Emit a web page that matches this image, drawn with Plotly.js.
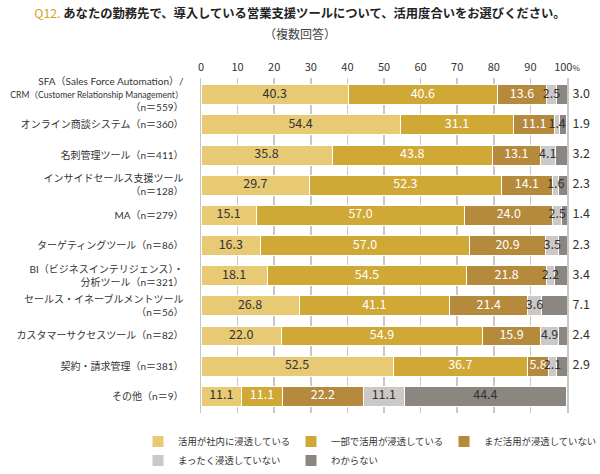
<!DOCTYPE html>
<html>
<head>
<meta charset="utf-8">
<script src="https://cdn.plot.ly/plotly-3.0.1.min.js"></script>
<style>
html,body{margin:0;padding:0;background:#fff;}
#chart{width:600px;height:474px;}
</style>
</head>
<body>
<div id="chart"></div>
<script>
const categories = [
  "SFA（Sales Force Automation）/<br><span style='font-size:8.6px'>CRM（Customer Relationship Management）</span><br>（n＝559）",
  "オンライン商談システム（n＝360）",
  "名刺管理ツール（n＝411）",
  "インサイドセールス支援ツール<br>（n＝128）",
  "MA（n＝279）",
  "ターゲティングツール（n＝86）",
  "BI（ビジネスインテリジェンス）・<br>分析ツール（n＝321）",
  "セールス・イネーブルメントツール<br>（n＝56）",
  "カスタマーサクセスツール（n＝82）",
  "契約・請求管理（n＝381）",
  "その他（n＝9）"
];
const seriesNames = ["活用が社内に浸透している", "一部で活用が浸透している", "まだ活用が浸透していない", "まったく浸透していない", "わからない"];
const fullyAdopted   = [40.3, 54.4, 35.8, 29.7, 15.1, 16.3, 18.1, 26.8, 22.0, 52.5, 11.1];
const partlyAdopted  = [40.6, 31.1, 43.8, 52.3, 57.0, 57.0, 54.5, 41.1, 54.9, 36.7, 11.1];
const notYetAdopted  = [13.6, 11.1, 13.1, 14.1, 24.0, 20.9, 21.8, 21.4, 15.9, 5.8, 22.2];
const notAtAll       = [2.5, 1.4, 4.1, 1.6, 2.5, 3.5, 2.2, 3.6, 4.9, 2.1, 11.1];
const unknown        = [3.0, 1.9, 3.2, 2.3, 1.4, 2.3, 3.4, 7.1, 2.4, 2.9, 44.4];
const tickValues = [0, 10, 20, 30, 40, 50, 60, 70, 80, 90, 100];
const tickLabels = ["0", "10", "20", "30", "40", "50", "60", "70", "80", "90", "100<span style='font-size:8px'>%</span>"];

const colors = ["#E8C974", "#D0A835", "#B58A3C", "#CCC8C5", "#8B8680"];
const textColors = ["#333333", "#ffffff", "#ffffff", "#333333", "#333333"];
const FONT = "'Noto Sans CJK JP', 'Noto Sans', sans-serif";
const LABELFONT = "Lato, 'Noto Sans CJK JP', sans-serif";
const seriesData = [fullyAdopted, partlyAdopted, notYetAdopted, notAtAll, unknown];

const traces = [];
// stacked bars
seriesData.forEach((vals, i) => {
  traces.push({
    type: "bar",
    orientation: "h",
    name: seriesNames[i],
    y: categories,
    x: vals,
    marker: {color: colors[i], line: {color: "#ffffff", width: 1}},
    hoverinfo: "none"
  });
});
// value labels drawn on top of all bars (positions derived from the data)
const cum = categories.map(() => 0);
seriesData.forEach((vals, i) => {
  const xs = [], ys = [], txt = [], pos = [], cols = [];
  vals.forEach((v, k) => {
    const start = cum[k];
    cum[k] += v;
    const isLastOutside = (i === 4 && k !== vals.length - 1);
    xs.push(isLastOutside ? 100 : start + v / 2);
    ys.push(categories[k]);
    txt.push((isLastOutside ? "\u00a0\u00a0" : "") + v.toFixed(1));
    pos.push(isLastOutside ? "middle right" : "middle center");
    cols.push(textColors[i]);
  });
  traces.push({
    type: "scatter",
    mode: "text",
    x: xs, y: ys, text: txt,
    textposition: pos,
    textfont: {family: FONT, size: 12.5, color: cols},
    cliponaxis: false,
    showlegend: false,
    hoverinfo: "none"
  });
});

const layout = {
  width: 600,
  height: 474,
  paper_bgcolor: "#ffffff",
  plot_bgcolor: "#ffffff",
  barmode: "stack",
  bargap: 0.34,
  margin: {l: 201, r: 33, t: 78, b: 61, autoexpand: false},
  font: {family: FONT, color: "#333333", size: 10},
  title: {
    text: "<span style='color:#D4A21E'>Q12.</span> <b>あなたの勤務先で、導入している営業支援ツールについて、活用度合いをお選びください。</b>",
    font: {family: FONT, size: 12.3, color: "#222222"},
    x: 0.5, xanchor: "center", xref: "container",
    y: 1 - 14 / 474, yanchor: "middle", yref: "container"
  },
  annotations: [{
    text: "（複数回答）",
    xref: "paper", yref: "paper",
    x: 0.27, xanchor: "center",
    y: 1 + 45 / 335, yanchor: "middle",
    showarrow: false,
    font: {family: FONT, size: 12, color: "#444444"}
  }],
  xaxis: {
    side: "top",
    range: [0, 100],
    tickvals: tickValues,
    ticktext: tickLabels,
    showgrid: true,
    gridcolor: "#C8C8C8",
    gridwidth: 1.5,
    zeroline: false,
    showline: false,
    ticks: "",
    ticklabelstandoff: 4,
    fixedrange: true,
    tickfont: {family: FONT, size: 11, color: "#333333"}
  },
  yaxis: {
    autorange: "reversed",
    showline: true,
    mirror: true,
    linecolor: "#C8C8C8",
    linewidth: 1.5,
    showgrid: false,
    ticks: "",
    ticklabelstandoff: 14,
    tickfont: {family: LABELFONT, size: 10, color: "#333333"},
    fixedrange: true
  },
  showlegend: true,
  legend: {
    orientation: "h",
    xref: "paper", yref: "paper",
    x: (138 - 201) / 366, xanchor: "left",
    y: -(427 - 413) / 335, yanchor: "top",
    entrywidth: 108,
    entrywidthmode: "pixels",
    traceorder: "normal",
    itemwidth: 30,
    font: {family: FONT, size: 9.4, color: "#333333"},
    tracegroupgap: 0
  }
};

Plotly.newPlot("chart", traces, layout, {displayModeBar: false, staticPlot: true});
</script>
</body>
</html>
